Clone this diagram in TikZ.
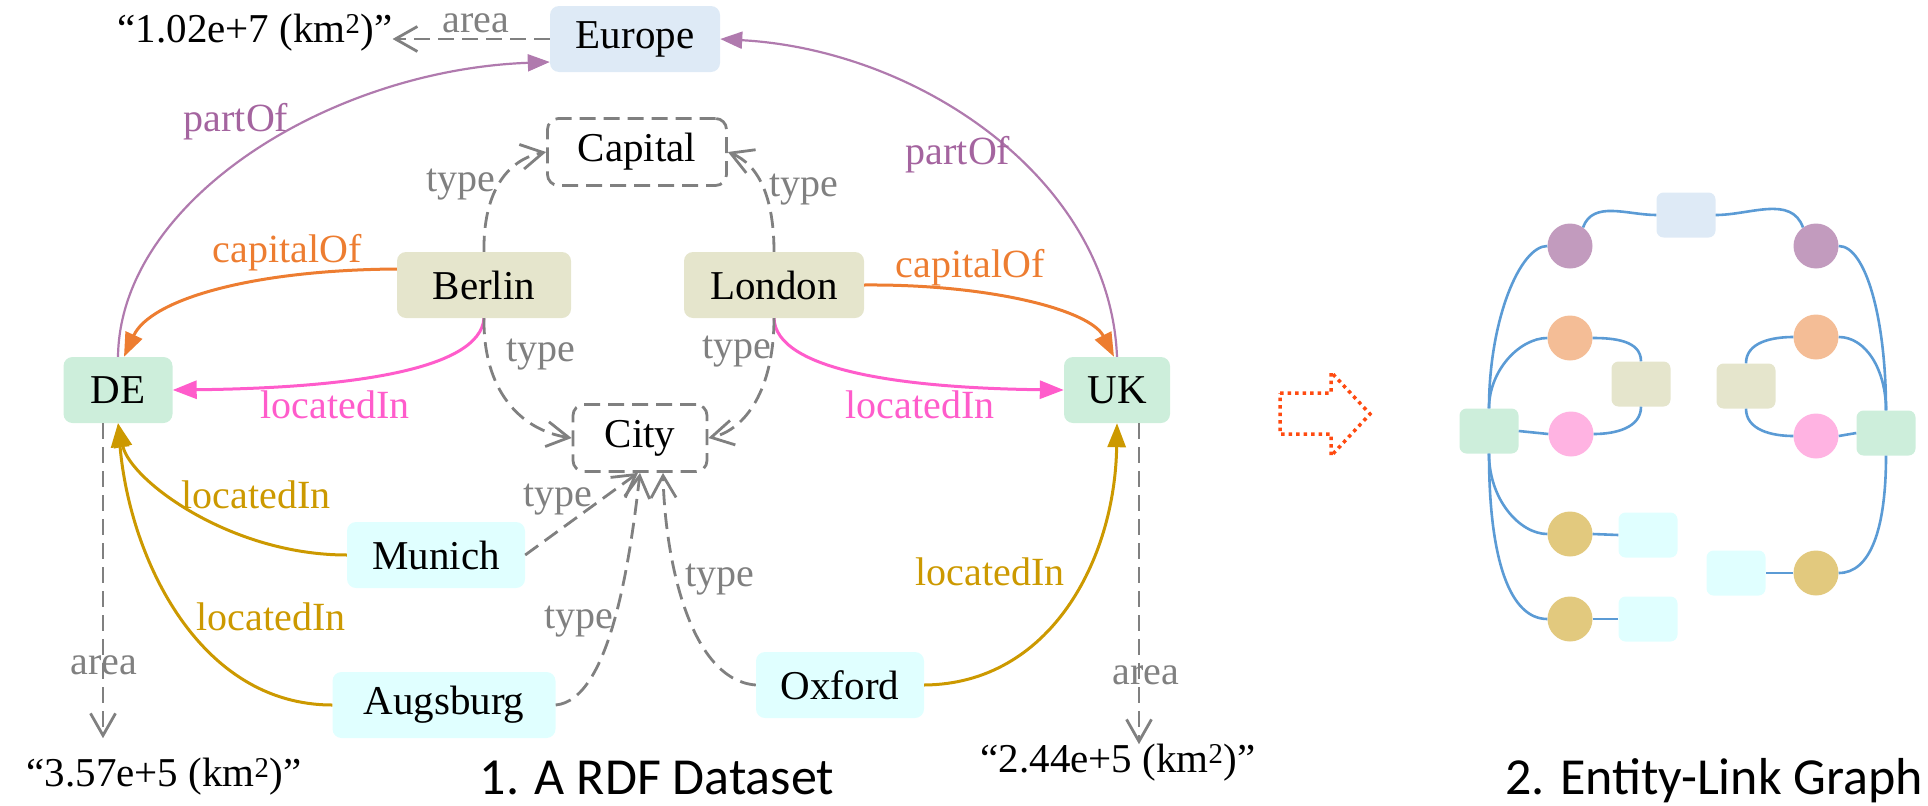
\documentclass[tikz,border=0pt]{standalone}
\usepackage{fontspec}
\setmainfont{Liberation Serif}
\newfontfamily\capfont{Carlito}
\usetikzlibrary{arrows.meta}
\definecolor{cEurope}{HTML}{DEEAF6}
\definecolor{cBeige}{HTML}{E5E5CC}
\definecolor{cCountry}{HTML}{CDEEDB}
\definecolor{cTown}{HTML}{E0FFFF}
\definecolor{cPurple}{HTML}{B07AAE}
\definecolor{cPurpleT}{HTML}{A4649F}
\definecolor{cOrange}{HTML}{ED7D31}
\definecolor{cPink}{HTML}{FF5CCB}
\definecolor{cGold}{HTML}{CC9900}
\definecolor{cGray}{HTML}{808080}
\definecolor{cBlue}{HTML}{5B9BD5}
\definecolor{cArrow}{HTML}{FF4A10}
\definecolor{gPurple}{HTML}{C29BBE}
\definecolor{gPeach}{HTML}{F4BD96}
\definecolor{gPink}{HTML}{FFB3E2}
\definecolor{gGold}{HTML}{E2C97E}
\tikzset{
  ent/.style={rounded corners=9pt, minimum height=66pt, inner sep=0pt, font=\fontsize{41}{41}\selectfont},
  cls/.style={draw=cGray, line width=2.8pt, dash pattern=on 16pt off 8pt, rounded corners=11pt, minimum height=67pt, inner sep=0pt, font=\fontsize{41}{41}\selectfont},
  lit/.style={inner sep=0pt, font=\fontsize{41}{41}\selectfont},
  lbl/.style={inner sep=0pt, font=\fontsize{40}{40}\selectfont},
  typ/.style={draw=cGray, line width=2.8pt, dash pattern=on 16pt off 8pt, -{Straight Barb[length=22pt,width=25pt]}},
  rel/.style={line width=3pt, -{Triangle[length=24pt,width=18pt]}},
  pof/.style={draw=cPurple, line width=2.2pt, -{Triangle[length=22pt,width=17pt]}},
  gcirc/.style={circle, minimum size=45pt, inner sep=0pt},
  grect/.style={rounded corners=7pt, minimum width=59pt, minimum height=45pt, inner sep=0pt},
  gedge/.style={draw=cBlue, line width=2.6pt},
  capt/.style={inner sep=0pt, anchor=base, font=\capfont\fontsize{52}{52}\selectfont}
}
\begin{document}
\begin{tikzpicture}[x=1pt,y=-1pt]
\useasboundingbox (0,0) rectangle (1928,806);

% ---------- RDF dataset: nodes ----------
\node[ent, fill=cEurope, minimum width=170pt] (europe) at (635,39) {Europe};
\node[cls, minimum width=179pt] (capital) at (637,152) {Capital};
\node[ent, fill=cBeige, minimum width=174pt] (berlin) at (484,285) {Berlin};
\node[ent, fill=cBeige, minimum width=180pt] (london) at (774,285) {London};
\node[ent, fill=cCountry, minimum width=109pt] (de) at (118,390) {DE};
\node[ent, fill=cCountry, minimum width=106pt] (uk) at (1117,390) {UK};
\node[cls, minimum width=134pt] (city) at (640,438) {City};
\node[ent, fill=cTown, minimum width=178pt] (munich) at (436,555) {Munich};
\node[ent, fill=cTown, minimum width=223pt] (augsburg) at (444,705) {Augsburg};
\node[ent, fill=cTown, minimum width=168pt] (oxford) at (840,685) {Oxford};

\node[lit] (litEU) at (255,33) {“1.02e+7 (km\textsuperscript{2})”};
\node[lit] (litDE) at (164,777) {“3.57e+5 (km\textsuperscript{2})”};
\node[lit] (litUK) at (1118,763) {“2.44e+5 (km\textsuperscript{2})”};

% ---------- RDF dataset: edges ----------
% area
\draw[typ] (europe.west) -- (europe.west -| litEU.east);
\draw[typ] ([xshift=-15pt]de.south) -- ([xshift=-15pt,yshift=20pt]de.south |- litDE.north);
\draw[typ] ([xshift=22pt]uk.south) -- ([xshift=22pt]uk.south |- litUK.north);
% partOf
\draw[pof] (de.north) .. controls (120,200) and (330,70) .. ([yshift=-23pt]europe.west);
\draw[pof] (uk.north) .. controls (1110,180) and (920,50) .. (europe.east);
% capitalOf
\draw[rel, cOrange] (berlin.west |- 0,269) .. controls (250,270) and (150,300) .. ([xshift=6pt]de.north);
\draw[rel, cOrange] (london.east) .. controls (990,284) and (1090,310) .. ([xshift=-3pt]uk.north);
% locatedIn (pink)
\draw[rel, cPink] (berlin.south) .. controls (480,370) and (350,388) .. (de.east);
\draw[rel, cPink] (london.south) .. controls (776,370) and (900,388) .. (uk.west);
% locatedIn (gold)
\draw[rel, cGold] (munich.west) .. controls (230,555) and (130,480) .. (de.south);
\draw[rel, cGold] (augsburg.west) .. controls (200,705) and (130,560) .. (de.south);
\draw[rel, cGold] (oxford.east) .. controls (1050,684) and (1115,560) .. (uk.south);
% type
\draw[typ] (berlin.north) .. controls (483,195) and (505,160) .. (capital.west);
\draw[typ] (london.north) .. controls (774,200) and (760,165) .. (capital.east);
\draw[typ] (berlin.south) .. controls (483,390) and (520,430) .. (city.west);
\draw[typ] (london.south) .. controls (774,390) and (745,430) .. (city.east);
\draw[typ] (munich.east) -- ([xshift=-2pt]city.south);
\draw[typ] (augsburg.east) .. controls (610,700) and (630,560) .. ([xshift=0pt]city.south);
\draw[typ] (oxford.west) .. controls (690,680) and (665,560) .. ([xshift=23pt]city.south);

% ---------- edge labels ----------
\node[lbl, cGray] (aEU) at (476,23) {area};
\node[lbl, cGray] (aDE) at (104,665) {area};
\node[lbl, cGray] (aUK) at (1146,675) {area};
\node[lbl, cPurpleT] (pL) at (236,122) {partOf};
\node[lbl, cPurpleT] (pR) at (958,155) {partOf};
\node[lbl, cOrange] (cL) at (287,253) {capitalOf};
\node[lbl, cOrange] (cR) at (970,268) {capitalOf};
\node[lbl, cPink] (lL) at (335,405) {locatedIn};
\node[lbl, cPink] (lR) at (920,405) {locatedIn};
\node[lbl, cGold] (lM) at (256,495) {locatedIn};
\node[lbl, cGold] (lA) at (271,617) {locatedIn};
\node[lbl, cGold] (lO) at (990,572) {locatedIn};
\node[lbl, cGray] (t1) at (461,185) {type};
\node[lbl, cGray] (t2) at (804,190) {type};
\node[lbl, cGray] (t3) at (541,355) {type};
\node[lbl, cGray] (t4) at (737,352) {type};
\node[lbl, cGray] (t5) at (558,500) {type};
\node[lbl, cGray] (t6) at (579,622) {type};
\node[lbl, cGray] (t7) at (720,580) {type};

\node[capt] (cap1) at (657,794) {1. A RDF Dataset};

% ---------- dotted arrow ----------
\draw[cArrow, line width=3.5pt, dash pattern=on 3.5pt off 4pt]
  (1280,393) -- (1331,393) -- (1331,372) -- (1370,414) -- (1331,456) -- (1331,434) -- (1280,434) -- cycle;

% ---------- Entity-link graph ----------
\node[grect, fill=cEurope] (geu) at (1686,215) {};
\node[gcirc, fill=gPurple] (gp1) at (1570,246) {};
\node[gcirc, fill=gPurple] (gp2) at (1816,246) {};
\node[gcirc, fill=gPeach] (go1) at (1570,338) {};
\node[gcirc, fill=gPeach] (go2) at (1816,337) {};
\node[grect, fill=cBeige] (gb1) at (1641,384) {};
\node[grect, fill=cBeige] (gb2) at (1746,386) {};
\node[grect, fill=cCountry] (gg1) at (1489,431) {};
\node[grect, fill=cCountry] (gg2) at (1886,433) {};
\node[gcirc, fill=gPink] (gk1) at (1571,434) {};
\node[gcirc, fill=gPink] (gk2) at (1816,436) {};
\node[gcirc, fill=gGold] (gy1) at (1570,534) {};
\node[gcirc, fill=gGold] (gy2) at (1570,619) {};
\node[gcirc, fill=gGold] (gy3) at (1816,573) {};
\node[grect, fill=cTown] (gc1) at (1648,535) {};
\node[grect, fill=cTown] (gc2) at (1648,619) {};
\node[grect, fill=cTown] (gc3) at (1736,573) {};

\draw[gedge] (geu.west) to[out=180,in=70] (gp1.55);
\draw[gedge] (geu.east) to[out=0,in=110] (gp2.125);
\draw[gedge] (gp1.west) .. controls (1520,246) and (1489,320) .. (gg1.north);
\draw[gedge] (go1.west) .. controls (1520,338) and (1489,370) .. (gg1.north);
\draw[gedge] (go1.east) to[out=0,in=90] (gb1.north);
\draw[gedge] (gb1.south) to[out=-90,in=0] (gk1.east);
\draw[gedge] (gg1.east) -- (gk1.west);
\draw[gedge] (gg1.south) .. controls (1489,500) and (1520,534) .. (gy1.west);
\draw[gedge] (gg1.south) .. controls (1489,560) and (1510,619) .. (gy2.west);
\draw[gedge] (gy1.east) -- (gc1.west);
\draw[gedge] (gy2.east) -- (gc2.west);
\draw[gedge] (gp2.east) .. controls (1866,246) and (1886,320) .. (gg2.north);
\draw[gedge] (go2.east) .. controls (1866,337) and (1886,370) .. (gg2.north);
\draw[gedge] (go2.west) to[out=180,in=90] (gb2.north);
\draw[gedge] (gb2.south) to[out=-90,in=180] (gk2.west);
\draw[gedge] (gk2.east) -- (gg2.west);
\draw[gedge] (gg2.south) .. controls (1886,530) and (1870,573) .. (gy3.east);
\draw[gedge] (gy3.west) -- (gc3.east);

\node[capt] (cap2) at (1714,794) {2. Entity-Link Graph};
\end{tikzpicture}
\end{document}
